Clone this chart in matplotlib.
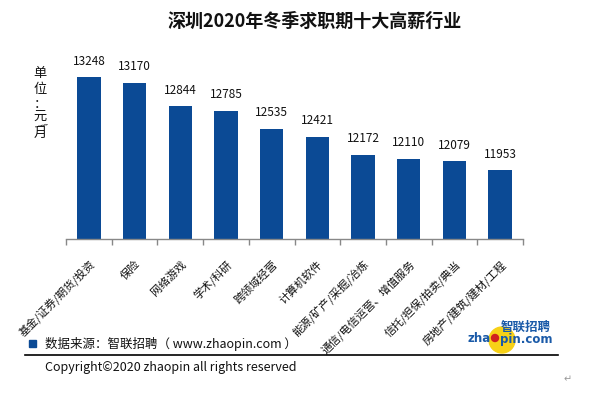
import matplotlib
matplotlib.use("Agg")
import matplotlib.pyplot as plt
from matplotlib.patches import Ellipse, Rectangle
from matplotlib.lines import Line2D

plt.rcParams['font.family'] = ['Noto Sans CJK SC', 'DejaVu Sans']

categories = ["基金/证券/期货/投资", "保险", "网络游戏", "学术/科研", "跨领域经营",
              "计算机软件", "能源/矿产/采掘/冶炼", "通信/电信运营、增值服务",
              "信托/担保/拍卖/典当", "房地产/建筑/建材/工程"]
values = [13248, 13170, 12844, 12785, 12535, 12421, 12172, 12110, 12079, 11953]
title = "深圳2020年冬季求职期十大高薪行业"
ylabel = "单位：元/月"
source = "数据来源：智联招聘（ www.zhaopin.com ）"
copyright_text = "Copyright\u00a92020 zhaopin all rights reserved"

W, H = 609, 397
fig = plt.figure(figsize=(W / 100, H / 100), dpi=100)
ax = fig.add_axes([66 / W, 1 - 239 / H, (523 - 66) / W, (239 - 52) / H])

bar_color = "#0B4A95"
x = list(range(len(categories)))
bars = ax.bar(x, values, width=0.51, color=bar_color)
ax.set_xlim(-0.5, len(categories) - 0.5)
ax.set_ylim(11000, 13600)

for xi, v in zip(x, values):
    ax.annotate(str(v), (xi, v), xytext=(0, 7), textcoords="offset points",
                ha="center", va="bottom", fontsize=8.5, color="#111111")

for s in ["top", "right", "left"]:
    ax.spines[s].set_visible(False)
ax.spines["bottom"].set_color("#888888")
ax.spines["bottom"].set_linewidth(1.0)
ax.set_yticks([])

ax.set_xticks(x)
ax.set_xticklabels(categories, rotation=45, ha="right", rotation_mode="anchor",
                   fontsize=8, color="#111111")
ax.tick_params(axis="x", which="major", length=0, pad=14)
ax.set_xticks([i - 0.5 for i in range(len(categories) + 1)], minor=True)
ax.tick_params(axis="x", which="minor", length=4, color="#888888", width=1)

fig.text(315 / W, 1 - 21 / H, title, ha="center", va="center",
         fontsize=13, fontweight="bold", color="#111111")

ylab_chars = ["单", "位", "：", "元", "/", "月"]
ylab_y = [74, 90, 104, 116, 125, 133]
for ch, yy in zip(ylab_chars, ylab_y):
    rot = -60 if ch == "/" else 0
    fig.text(40 / W, 1 - yy / H, ch, ha="center", va="center", fontsize=9.5,
             color="#111111", rotation=rot)

# source line
fig.patches.append(Rectangle((29 / W, 1 - 347 / H), 7 / W, 7 / H,
                             transform=fig.transFigure, color=bar_color))
fig.text(45 / W, 1 - 344 / H, source, ha="left", va="center", fontsize=9, color="#111111")
fig.lines.append(Line2D([25 / W, 558 / W], [1 - 355 / H, 1 - 355 / H],
                        transform=fig.transFigure, color="black", linewidth=1.2))
fig.text(45 / W, 1 - 367 / H, copyright_text, ha="left", va="center", fontsize=9,
         color="#111111")

# logo
fig.patches.append(Ellipse((502 / W, 1 - 340 / H), 26 / W, 26 / H,
                           transform=fig.transFigure, color="#F7D117", zorder=1))
fig.patches.append(Ellipse((495 / W, 1 - 338 / H), 7 / W, 7 / H,
                           transform=fig.transFigure, color="#D02020", zorder=2))
fig.text(491 / W, 1 - 339 / H, "zha", ha="right", va="center", fontsize=8.5,
         fontweight="bold", color="#1A5AA8", family="DejaVu Sans", zorder=3)
fig.text(500 / W, 1 - 339 / H, "pin.com", ha="left", va="center", fontsize=8.5,
         fontweight="bold", color="#1A5AA8", family="DejaVu Sans", zorder=3)
fig.text(526 / W, 1 - 327 / H, "智联招聘", ha="center", va="center", fontsize=9,
         fontweight="bold", color="#1A5AA8", zorder=3)

fig.text(568 / W, 1 - 379 / H, "↵", ha="center", va="center", fontsize=7,
         color="#999999", family="DejaVu Sans")

fig.savefig("out.png", dpi=100)
